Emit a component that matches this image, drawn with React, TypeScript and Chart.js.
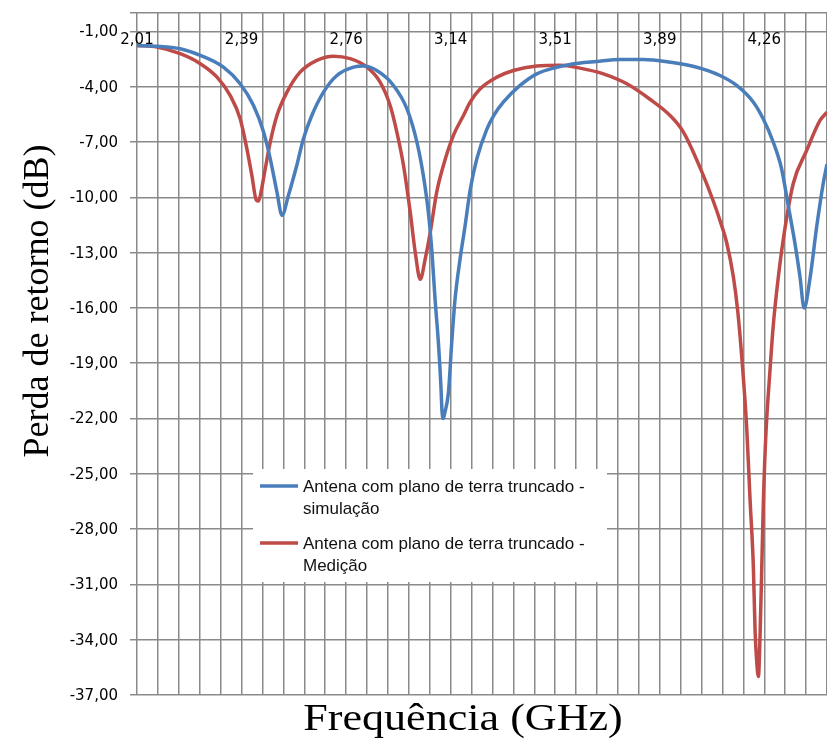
import React, { useEffect, useRef } from 'react';
import { Chart, registerables } from 'chart.js';

Chart.register(...registerables);

// ---- data ----
const simFreq = [
  2.01, 2.08, 2.165, 2.237, 2.32, 2.38, 2.428, 2.464, 2.488, 2.512, 2.53, 2.553, 2.583, 2.607, 2.637,
  2.679, 2.727, 2.787, 2.822, 2.87, 2.93, 2.978, 3.014, 3.037, 3.055, 3.068, 3.079, 3.091, 3.1, 3.104,
  3.109, 3.114, 3.127, 3.139, 3.151, 3.169, 3.187, 3.205, 3.229, 3.265, 3.29, 3.324, 3.384, 3.444, 3.516,
  3.563, 3.659, 3.743, 3.826, 3.922, 4.018, 4.101, 4.161, 4.221, 4.256, 4.292, 4.322, 4.346, 4.37,
  4.388, 4.403, 4.424, 4.448, 4.472, 4.485,
];
const simLoss = [
  -1.76, -1.8, -1.94, -2.3, -2.94, -3.84, -5.02, -6.46, -7.91, -9.72, -10.98, -9.9, -8.27, -6.82, -5.56,
  -4.29, -3.39, -2.94, -2.88, -3.12, -3.93, -5.19, -7.0, -8.81, -10.8, -12.98, -15.5, -17.86, -20.2, -21.6,
  -22.0, -21.7, -20.6, -17.86, -15.5, -13.33, -11.53, -9.6, -7.91, -6.3, -5.55, -4.84, -3.93, -3.3, -2.94,
  -2.79, -2.63, -2.52, -2.52, -2.67, -2.94, -3.39, -3.93, -4.84, -5.74, -7.0, -8.45, -10.45, -12.5,
  -14.3, -16.0, -14.4, -11.6, -9.2, -8.2,
];
const measFreq = [
  2.01, 2.082, 2.165, 2.237, 2.297, 2.344, 2.38, 2.404, 2.422, 2.438, 2.446, 2.455, 2.47, 2.488, 2.512,
  2.548, 2.595, 2.655, 2.715, 2.775, 2.835, 2.882, 2.918, 2.942, 2.966, 2.99, 3.008, 3.026, 3.044, 3.062,
  3.085, 3.109, 3.145, 3.181, 3.205, 3.241, 3.301, 3.36, 3.444, 3.528, 3.599, 3.683, 3.767, 3.85, 3.922,
  3.97, 4.03, 4.077, 4.101, 4.125, 4.149, 4.165, 4.18, 4.197, 4.209, 4.221, 4.227, 4.233, 4.239, 4.245,
  4.251, 4.257, 4.266, 4.28, 4.292, 4.306, 4.328, 4.364, 4.412, 4.46, 4.485,
];
const measLoss = [
  -1.76, -1.85, -2.21, -2.75, -3.48, -4.47, -5.74, -7.36, -8.81, -10.15, -10.2, -9.7, -8.45, -7.0, -5.56,
  -4.29, -3.21, -2.57, -2.34, -2.48, -2.94, -3.75, -5.02, -6.46, -8.27, -10.8, -12.98, -14.45, -13.33, -11.89,
  -9.72, -8.27, -6.64, -5.56, -4.84, -4.11, -3.48, -3.12, -2.88, -2.84, -2.99, -3.3, -3.84, -4.68, -5.56,
  -6.46, -8.4, -10.2, -11.25, -12.45, -14.3, -16.2, -18.8, -22.5, -26.4, -30.1, -33.5, -35.2, -36.0, -33.7,
  -30.1, -26.4, -22.8, -19.5, -17.0, -14.9, -12.3, -9.25, -7.46, -5.83, -5.38,
];

const xTickLabels = ['2,01', '2,39', '2,76', '3,14', '3,51', '3,89', '4,26'];
const yTickValues = [-37, -34, -31, -28, -25, -22, -19, -16, -13, -10, -7, -4, -1, 0];
const seriesLabels = [
  'Antena com plano de terra truncado -\nsimulação',
  'Antena com plano de terra truncado -\nMedição',
];
const seriesColors = ['#4a7ebb', '#be4b48'];
const xTitle = 'Frequência (GHz)';
const yTitle = 'Perda de retorno (dB)';

const X_MIN = 2.01;
const X_STEP = 0.075;
const X_GRID_COUNT = 34;
const X_LABEL_EVERY = 5;
const X_MAX = X_MIN + (X_GRID_COUNT - 1) * X_STEP;

const zeroPadding = (scale: any) => {
  scale.paddingTop = 0;
  scale.paddingBottom = 0;
  scale.paddingLeft = 0;
  scale.paddingRight = 0;
};

const overlayPlugin = {
  id: 'overlay',
  afterDatasetsDraw(chart: any) {
    const ctx = chart.ctx as CanvasRenderingContext2D;
    ctx.save();
    // legend box
    ctx.fillStyle = '#ffffff';
    ctx.fillRect(253, 469, 354, 113);
    chart.data.datasets.forEach((ds: any, i: number) => {
      const y0 = 486 + i * 57;
      ctx.strokeStyle = ds.borderColor;
      ctx.lineWidth = 3.5;
      ctx.beginPath();
      ctx.moveTo(260, y0);
      ctx.lineTo(298, y0);
      ctx.stroke();
      ctx.fillStyle = '#111';
      ctx.font = '17px "Liberation Sans"';
      ctx.textBaseline = 'middle';
      ctx.textAlign = 'left';
      String(ds.label)
        .split('\n')
        .forEach((t: string, j: number) => ctx.fillText(t, 303, y0 + 1 + j * 22));
    });
    ctx.restore();
  },
  afterDraw(chart: any) {
    const ctx = chart.ctx as CanvasRenderingContext2D;
    ctx.save();
    ctx.fillStyle = '#000';
    ctx.textAlign = 'center';
    ctx.textBaseline = 'alphabetic';
    ctx.font = '38px "Liberation Serif"';
    ctx.translate(463, 730);
    ctx.scale(1.16, 1);
    ctx.fillText(xTitle, 0, 0);
    ctx.restore();
    ctx.save();
    ctx.fillStyle = '#000';
    ctx.textAlign = 'center';
    ctx.textBaseline = 'alphabetic';
    ctx.font = '36px "Liberation Serif"';
    ctx.translate(48, 301);
    ctx.rotate(-Math.PI / 2);
    ctx.fillText(yTitle, 0, 0);
    ctx.restore();
  },
};

export default function App() {
  const canvasRef = useRef<HTMLCanvasElement | null>(null);

  useEffect(() => {
    document.body.style.margin = '0';
    const canvas = canvasRef.current;
    if (!canvas) return;
    const chart = new Chart(canvas, {
      type: 'line',
      data: {
        datasets: [
          {
            label: seriesLabels[0],
            data: simFreq.map((f, i) => ({ x: f, y: simLoss[i] })),
            borderColor: seriesColors[0],
            backgroundColor: seriesColors[0],
            borderWidth: 3.5,
            pointRadius: 0,
            pointHoverRadius: 0,
            cubicInterpolationMode: 'monotone',
          },
          {
            label: seriesLabels[1],
            data: measFreq.map((f, i) => ({ x: f, y: measLoss[i] })),
            borderColor: seriesColors[1],
            backgroundColor: seriesColors[1],
            borderWidth: 3.5,
            pointRadius: 0,
            pointHoverRadius: 0,
            cubicInterpolationMode: 'monotone',
          },
        ],
      },
      options: {
        animation: false,
        responsive: false,
        events: [],
        layout: { autoPadding: false, padding: { top: 13, bottom: 45, left: 0, right: 0 } },
        plugins: {
          legend: { display: false },
          tooltip: { enabled: false },
          title: { display: false },
        },
        scales: {
          x: {
            type: 'linear',
            position: { y: -1 } as any,
            min: X_MIN,
            max: X_MAX,
            afterBuildTicks: (scale: any) => {
              scale.ticks = Array.from({ length: X_GRID_COUNT }, (_, i) => ({ value: X_MIN + i * X_STEP }));
            },
            afterFit: (scale: any) => {
              zeroPadding(scale);
              scale.height = 0;
            },
            ticks: {
              autoSkip: false,
              maxRotation: 0,
              padding: 0,
              color: '#000',
              font: { family: '"DejaVu Sans"', size: 15 },
              callback: (_v: any, i: number) => (i % X_LABEL_EVERY === 0 ? xTickLabels[i / X_LABEL_EVERY] ?? '' : ''),
            },
            grid: { color: '#8a8a8a', lineWidth: 1.5, drawTicks: false },
            border: { display: false },
          },
          y: {
            type: 'linear',
            position: 'left',
            min: -37,
            max: 0,
            afterBuildTicks: (scale: any) => {
              scale.ticks = yTickValues.map((v) => ({ value: v }));
            },
            afterFit: (scale: any) => {
              zeroPadding(scale);
              scale.width = 137;
            },
            ticks: {
              autoSkip: false,
              padding: 12,
              labelOffset: 1,
              color: '#000',
              font: { family: '"DejaVu Sans"', size: 15 },
              callback: (v: any) => (v === 0 ? '' : Number(v).toFixed(2).replace('.', ',')),
            },
            grid: { color: '#8a8a8a', lineWidth: 1.5, tickLength: 7 },
            border: { display: false },
          },
        },
      },
      plugins: [overlayPlugin],
    });
    return () => chart.destroy();
  }, []);

  return (
    <div style={{ position: 'absolute', left: 0, top: 0, width: 827, height: 740, background: '#fff' }}>
      <canvas ref={canvasRef} width={827} height={740} />
    </div>
  );
}
